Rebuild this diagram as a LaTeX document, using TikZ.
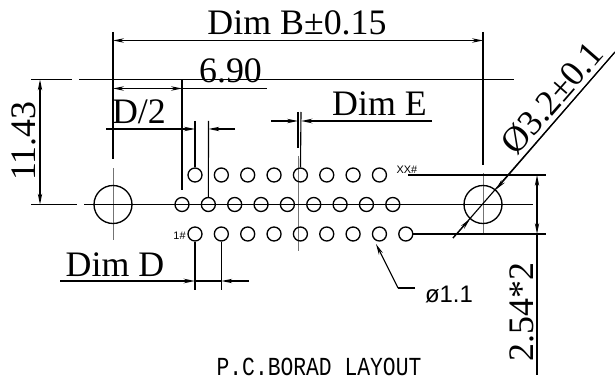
\documentclass[tikz,border=0pt]{standalone}
\usepackage{fontspec}
\setmainfont{Liberation Serif}
\newfontfamily\padfont{Liberation Sans}
\newfontfamily\titlefont{Liberation Mono}
\usetikzlibrary{arrows.meta}
\pgfdeclarelayer{bg}
\pgfsetlayers{bg,main}
\tikzset{
	pad/.style={draw, circle, line width=1.9pt, minimum size=0.7cm, inner sep=0pt},
	hole/.style={draw, circle, line width=1.9pt, minimum size=1.9cm, inner sep=0pt},
	dimtext/.style={inner sep=0pt, anchor=base, font=\fontsize{51}{51}\selectfont},
	padtext/.style={inner sep=0pt, anchor=base, font=\padfont\fontsize{15.5}{15.5}\selectfont},
	hair/.style={line width=1.6pt},
	heavy/.style={line width=2.6pt},
	axis/.style={line width=1.4pt, black!55},
	tip/.style={{Stealth[length=0.55cm,width=0.22cm]}-{Stealth[length=0.55cm,width=0.22cm]}},
	endtip/.style={-{Stealth[length=0.55cm,width=0.22cm]}}
}
\begin{document}
\begin{tikzpicture}
	\useasboundingbox (0cm, 0cm) rectangle (30.75cm, 18.9cm);
	\node (h0) [hole] at (5.650000cm, 8.675000cm) {};
	\node (h1) [hole] at (24.150000cm, 8.675000cm) {};
	\node (p0) [pad] at (9.750000cm, 7.200000cm) {};
	\node (p1) [pad] at (11.067500cm, 7.200000cm) {};
	\node (p2) [pad] at (12.385000cm, 7.200000cm) {};
	\node (p3) [pad] at (13.702500cm, 7.200000cm) {};
	\node (p4) [pad] at (15.020000cm, 7.200000cm) {};
	\node (p5) [pad] at (16.337500cm, 7.200000cm) {};
	\node (p6) [pad] at (17.655000cm, 7.200000cm) {};
	\node (p7) [pad] at (18.972500cm, 7.200000cm) {};
	\node (p8) [pad] at (20.290000cm, 7.200000cm) {};
	\node (q0) [pad] at (9.100000cm, 8.675000cm) {};
	\node (q1) [pad] at (10.417500cm, 8.675000cm) {};
	\node (q2) [pad] at (11.735000cm, 8.675000cm) {};
	\node (q3) [pad] at (13.052500cm, 8.675000cm) {};
	\node (q4) [pad] at (14.370000cm, 8.675000cm) {};
	\node (q5) [pad] at (15.687500cm, 8.675000cm) {};
	\node (q6) [pad] at (17.005000cm, 8.675000cm) {};
	\node (q7) [pad] at (18.322500cm, 8.675000cm) {};
	\node (q8) [pad] at (19.640000cm, 8.675000cm) {};
	\node (r0) [pad] at (9.750000cm, 10.150000cm) {};
	\node (r1) [pad] at (11.067500cm, 10.150000cm) {};
	\node (r2) [pad] at (12.385000cm, 10.150000cm) {};
	\node (r3) [pad] at (13.702500cm, 10.150000cm) {};
	\node (r4) [pad] at (15.020000cm, 10.150000cm) {};
	\node (r5) [pad] at (16.337500cm, 10.150000cm) {};
	\node (r6) [pad] at (17.655000cm, 10.150000cm) {};
	\node (r7) [pad] at (18.972500cm, 10.150000cm) {};
	\node (dimb) [dimtext] at (14.850000cm, 17.150000cm) {Dim B±0.15};
	\node (seven) [dimtext] at (11.525000cm, 14.750000cm) {6.90};
	\node (half) [dimtext] at (6.950000cm, 12.700000cm) {D/2};
	\node (dime) [dimtext] at (18.975000cm, 13.100000cm) {Dim E};
	\node (dimd) [dimtext] at (5.750000cm, 5.100000cm) {Dim D};
	\node (high) [dimtext, rotate=90] at (1.750000cm, 11.850000cm) {11.43};
	\node (pitch) [dimtext, rotate=90] at (26.650000cm, 3.300000cm) {2.54*2};
	\node (bore) [dimtext, rotate=48.9] at (28.050000cm, 13.600000cm) {Ø3.2±0.1};
	\node (drill) [inner sep=0pt, anchor=base, font=\padfont\fontsize{34}{34}\selectfont] at (22.450000cm, 3.800000cm) {ø1.1};
	\node (last) [padtext] at (20.350000cm, 10.200000cm) {XX\#};
	\node (first) [padtext] at (8.975000cm, 6.950000cm) {1\#};
	\node (title) [inner sep=0pt, anchor=base, xscale=0.82, font=\titlefont\fontsize{37}{37}\selectfont] at (15.950000cm, 0.120000cm) {P.C.BORAD LAYOUT};
	\coordinate (b0) at (5.650000cm, 17.300000cm);
	\coordinate (b1) at (5.650000cm, 10.950000cm);
	\coordinate (b2) at (24.150000cm, 17.300000cm);
	\coordinate (b3) at (24.150000cm, 10.650000cm);
	\coordinate (b4) at (5.650000cm, 16.875000cm);
	\coordinate (b5) at (24.150000cm, 16.875000cm);
	\coordinate (c0) at (5.650000cm, 10.500000cm);
	\coordinate (c1) at (5.650000cm, 6.900000cm);
	\coordinate (c2) at (24.150000cm, 10.250000cm);
	\coordinate (c3) at (24.150000cm, 7.150000cm);
	\coordinate (c4) at (14.900000cm, 11.100000cm);
	\coordinate (c5) at (14.900000cm, 6.350000cm);
	\coordinate (t0) at (1.550000cm, 14.925000cm);
	\coordinate (t1) at (3.600000cm, 14.925000cm);
	\coordinate (t2) at (3.950000cm, 14.925000cm);
	\coordinate (t3) at (25.700000cm, 14.925000cm);
	\coordinate (t4) at (2.000000cm, 14.925000cm);
	\coordinate (t5) at (2.000000cm, 8.675000cm);
	\coordinate (m0) at (1.550000cm, 8.675000cm);
	\coordinate (m1) at (3.850000cm, 8.675000cm);
	\coordinate (m2) at (4.200000cm, 8.675000cm);
	\coordinate (m3) at (26.635000cm, 8.675000cm);
	\coordinate (s0) at (5.650000cm, 14.475000cm);
	\coordinate (s1) at (9.100000cm, 14.475000cm);
	\coordinate (s2) at (13.350000cm, 14.475000cm);
	\coordinate (s3) at (9.100000cm, 14.925000cm);
	\coordinate (s4) at (9.100000cm, 9.400000cm);
	\coordinate (u0) at (5.300000cm, 12.450000cm);
	\coordinate (u1) at (9.750000cm, 12.450000cm);
	\coordinate (u2) at (10.425000cm, 12.450000cm);
	\coordinate (u3) at (11.750000cm, 12.450000cm);
	\coordinate (u4) at (9.750000cm, 12.850000cm);
	\coordinate (u5) at (10.425000cm, 12.850000cm);
	\coordinate (e0) at (13.550000cm, 12.850000cm);
	\coordinate (e1) at (14.900000cm, 12.850000cm);
	\coordinate (e2) at (15.050000cm, 12.850000cm);
	\coordinate (e3) at (21.600000cm, 12.850000cm);
	\coordinate (e4) at (14.900000cm, 13.300000cm);
	\coordinate (e5) at (14.900000cm, 11.500000cm);
	\coordinate (e6) at (15.050000cm, 13.300000cm);
	\coordinate (d0) at (3.000000cm, 4.850000cm);
	\coordinate (d1) at (9.750000cm, 4.850000cm);
	\coordinate (d2) at (11.067500cm, 4.850000cm);
	\coordinate (d3) at (12.450000cm, 4.850000cm);
	\coordinate (d4) at (9.750000cm, 4.400000cm);
	\coordinate (d5) at (11.067500cm, 4.400000cm);
	\coordinate (k0) at (20.400000cm, 10.150000cm);
	\coordinate (k1) at (27.300000cm, 10.150000cm);
	\coordinate (k2) at (27.300000cm, 7.200000cm);
	\coordinate (k3) at (26.850000cm, 10.150000cm);
	\coordinate (k4) at (26.850000cm, 7.200000cm);
	\coordinate (k5) at (26.850000cm, 0.150000cm);
	\coordinate (w0) at (22.650000cm, 7.000000cm);
	\coordinate (w1) at (30.750000cm, 16.300000cm);
	\coordinate (l0) at (20.750000cm, 4.500000cm);
	\coordinate (l1) at (19.900000cm, 4.500000cm);
	\coordinate (l2) at (18.800000cm, 6.700000cm);
	\begin{pgfonlayer}{bg}
		\draw (b0) edge [heavy] (b1);
		\draw (b2) edge [hair] (b3);
		\draw (b4) edge [hair, tip] (b5);
		\draw (c0) edge [axis] (c1);
		\draw (c2) edge [axis] (c3);
		\draw (c4) edge [axis] (c5);
		\draw (t0) edge [hair] (t1);
		\draw (t2) edge [hair] (t3);
		\draw (t4) edge [hair, tip] (t5);
		\draw (m0) edge [heavy] (m1);
		\draw (m2) edge [hair] (m3);
		\draw (s0) edge [hair, tip] (s1);
		\draw (s1) edge [hair] (s2);
		\draw (s3) edge [hair] (s4);
		\draw (u0) edge [hair, endtip] (u1);
		\draw (u3) edge [hair, endtip] (u2);
		\draw (u4) edge [hair] (r0);
		\draw (u5) edge [hair] (q1);
		\draw (e0) edge [hair, endtip] (e1);
		\draw (e3) edge [heavy, endtip] (e2);
		\draw (e4) edge [hair] (e5);
		\draw (e6) edge [hair] (r4);
		\draw (d0) edge [heavy, endtip] (d1);
		\draw (d1) edge [hair] (d2);
		\draw (d3) edge [hair, endtip] (d2);
		\draw (p0) edge [hair] (d4);
		\draw (p1) edge [hair] (d5);
		\draw (k0) edge [heavy] (k1);
		\draw (p8) edge [heavy] (k2);
		\draw (k3) edge [hair, tip] (k4);
		\draw (k4) edge [hair] (k5);
		\draw (w0) edge [hair] (w1);
		\draw (w0) edge [hair, endtip] (h1);
		\draw (w1) edge [hair, endtip] (h1);
		\draw (l0) edge [hair] (l1);
		\draw (l1) edge [hair, endtip] (l2);
	\end{pgfonlayer}
\end{tikzpicture}
\end{document}
